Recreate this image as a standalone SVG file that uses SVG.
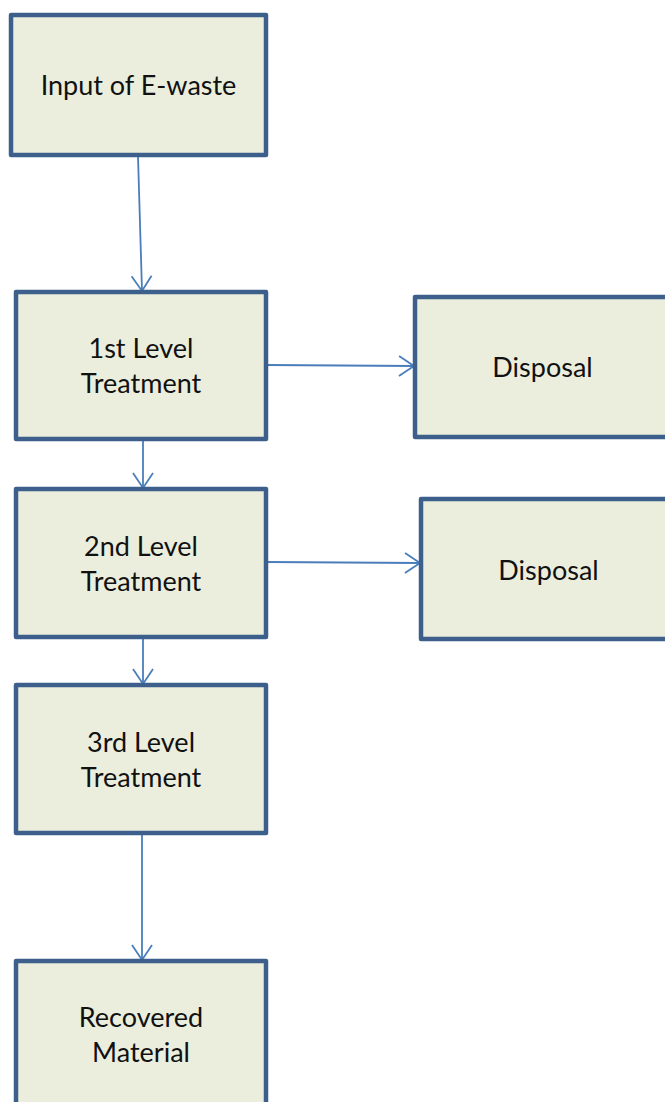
<svg xmlns="http://www.w3.org/2000/svg" width="665" height="1102" viewBox="0 0 665 1102">
<style>
.box{fill:#ebeedd;stroke:#3c5f8c;stroke-width:4.5;stroke-linejoin:round}
.lbl{font-family:Lato,"Open Sans","Liberation Sans",sans-serif;font-size:27px;fill:#111;text-anchor:middle}
.conn{stroke:#4a7ebb;stroke-width:1.8;fill:none}
</style>
<defs>
<marker id="arr" viewBox="0 0 18 22" refX="16" refY="11" markerWidth="18" markerHeight="22" markerUnits="userSpaceOnUse" orient="auto">
<path d="M1,1 L16,11 L1,21" fill="none" stroke="#4a7ebb" stroke-width="1.8"/>
</marker>
</defs>
<rect width="665" height="1102" fill="#fff"/>
<g id="connectors">
<line class="conn" x1="138" y1="156" x2="142" y2="291" marker-end="url(#arr)"/>
<line class="conn" x1="267" y1="365" x2="414" y2="366" marker-end="url(#arr)"/>
<line class="conn" x1="143" y1="440" x2="143" y2="488" marker-end="url(#arr)"/>
<line class="conn" x1="267" y1="562" x2="420" y2="563" marker-end="url(#arr)"/>
<line class="conn" x1="143" y1="638" x2="143" y2="684" marker-end="url(#arr)"/>
<line class="conn" x1="142" y1="834" x2="142" y2="960" marker-end="url(#arr)"/>
</g>
<g id="input">
<rect class="box" x="11" y="15" width="255" height="140"/>
<text class="lbl" x="138.5" y="95">Input of E-waste</text>
</g>
<g id="level1">
<rect class="box" x="16" y="292" width="250" height="147"/>
<text class="lbl" x="141" y="358">1st Level</text>
<text class="lbl" x="141" y="393">Treatment</text>
</g>
<g id="disposal1">
<rect class="box" x="415" y="297" width="270" height="140"/>
<text class="lbl" x="542.5" y="377">Disposal</text>
</g>
<g id="level2">
<rect class="box" x="16" y="489" width="250" height="148"/>
<text class="lbl" x="141" y="556">2nd Level</text>
<text class="lbl" x="141" y="591">Treatment</text>
</g>
<g id="disposal2">
<rect class="box" x="421" y="499" width="270" height="140"/>
<text class="lbl" x="548.5" y="580">Disposal</text>
</g>
<g id="level3">
<rect class="box" x="16" y="685" width="250" height="148"/>
<text class="lbl" x="141" y="752">3rd Level</text>
<text class="lbl" x="141" y="787">Treatment</text>
</g>
<g id="recovered">
<rect class="box" x="16" y="961" width="250" height="160"/>
<text class="lbl" x="141" y="1027">Recovered</text>
<text class="lbl" x="141" y="1062">Material</text>
</g>
</svg>
